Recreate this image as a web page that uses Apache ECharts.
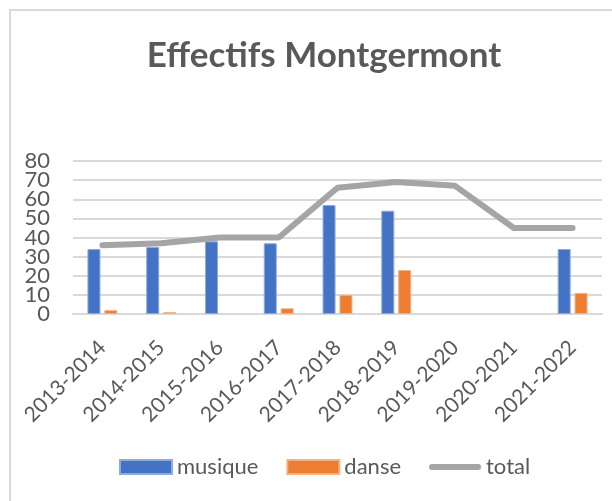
<!DOCTYPE html>
<html>
<head>
<meta charset="utf-8">
<script src="https://cdn.jsdelivr.net/npm/echarts@6/dist/echarts.min.js"></script>
<style>
  html, body { margin: 0; padding: 0; background: #fff; }
  /* cadre du graphique (bord gauche/haut visibles) */
  .frame {
    position: absolute; left: 9px; top: 9px; width: 700px; height: 600px;
    border-left: 2px solid #d9d9d9; border-top: 2px solid #d9d9d9;
  }
  #chart { position: absolute; left: 0; top: 0; width: 612px; height: 501px; }
</style>
</head>
<body>
<div class="frame"></div>
<div id="chart"></div>
<script>
// années
var saisons = ['2013-2014', '2014-2015', '2015-2016', '2016-2017', '2017-2018',
  '2018-2019', '2019-2020', '2020-2021', '2021-2022'];
// effectifs par activité
var musique = [34, 35, 38, 37, 57, 54, null, null, 34];
var danse = [2, 1, null, 3, 10, 23, null, null, 11];
var total = [36, 37, 40, 40, 66, 69, 67, 45, 45];
var yTicks = [0, 10, 20, 30, 40, 50, 60, 70, 80];

var font = 'Lato, "Open Sans", sans-serif';
var labelStyle = { margin: 23, fontFamily: font, fontSize: 22, color: '#595959' };

// les étiquettes serrées se masquent entre elles : on les répartit sur deux axes superposés
function yAxe(show) {
  return {
    type: 'value',
    position: 'left',
    min: yTicks[0], max: yTicks[yTicks.length - 1], interval: 10,
    splitLine: { show: show === 'all', lineStyle: { color: '#d9d9d9', width: 2 } },
    axisLine: { show: false },
    axisTick: { show: false },
    axisLabel: Object.assign({
      formatter: function (v) {
        var idx = yTicks.indexOf(v);
        if (show === 'all') return (idx === 1 || idx === 7) ? '' : String(v);
        return (idx === 1 || idx === 7) ? String(v) : '';
      }
    }, labelStyle)
  };
}

var myChart = echarts.init(document.getElementById('chart'));
var option = {
  animation: false,
  title: {
    text: 'Effectifs Montgermont',
    left: 319, top: 33, textAlign: 'center',
    textStyle: { fontFamily: font, fontSize: 35, fontWeight: 'bold', color: '#595959' }
  },
  legend: {
    left: 119, top: 456, padding: 0,
    itemWidth: 52, itemHeight: 14, itemGap: 28,
    textStyle: { fontFamily: font, fontSize: 22, color: '#595959' },
    data: [
      { name: 'musique', icon: 'rect' },
      { name: 'danse', icon: 'rect' },
      // trait épais aux bouts arrondis
      { name: 'total', icon: 'path://M3,0 L49,0 A3,3 0 0 1 49,6 L3,6 A3,3 0 0 1 3,0 Z' }
    ]
  },
  grid: { left: 73, right: 10, top: 161, bottom: 187 },
  xAxis: {
    type: 'category',
    data: saisons,
    axisTick: { show: false },
    axisLine: { lineStyle: { color: '#d9d9d9', width: 2 } },
    axisLabel: { rotate: 45, margin: 30, fontFamily: font, fontSize: 21, color: '#595959' }
  },
  yAxis: [yAxe('all'), yAxe('rest')],
  series: [
    {
      name: 'musique', type: 'bar', data: musique,
      barWidth: 13, barGap: '30%',
      itemStyle: { color: '#4472c4', borderColor: '#8faadc', borderWidth: 1 }
    },
    {
      name: 'danse', type: 'bar', data: danse,
      barWidth: 13,
      itemStyle: { color: '#ed7d31', borderColor: '#f4b183', borderWidth: 1 }
    },
    {
      name: 'total', type: 'line', data: total,
      showSymbol: false, symbol: 'none',
      lineStyle: { color: '#a5a5a5', width: 6, cap: 'round', join: 'round' },
      itemStyle: { color: '#a5a5a5' }
    }
  ]
};
myChart.setOption(option);
window.addEventListener('resize', myChart.resize);
</script>
</body>
</html>
